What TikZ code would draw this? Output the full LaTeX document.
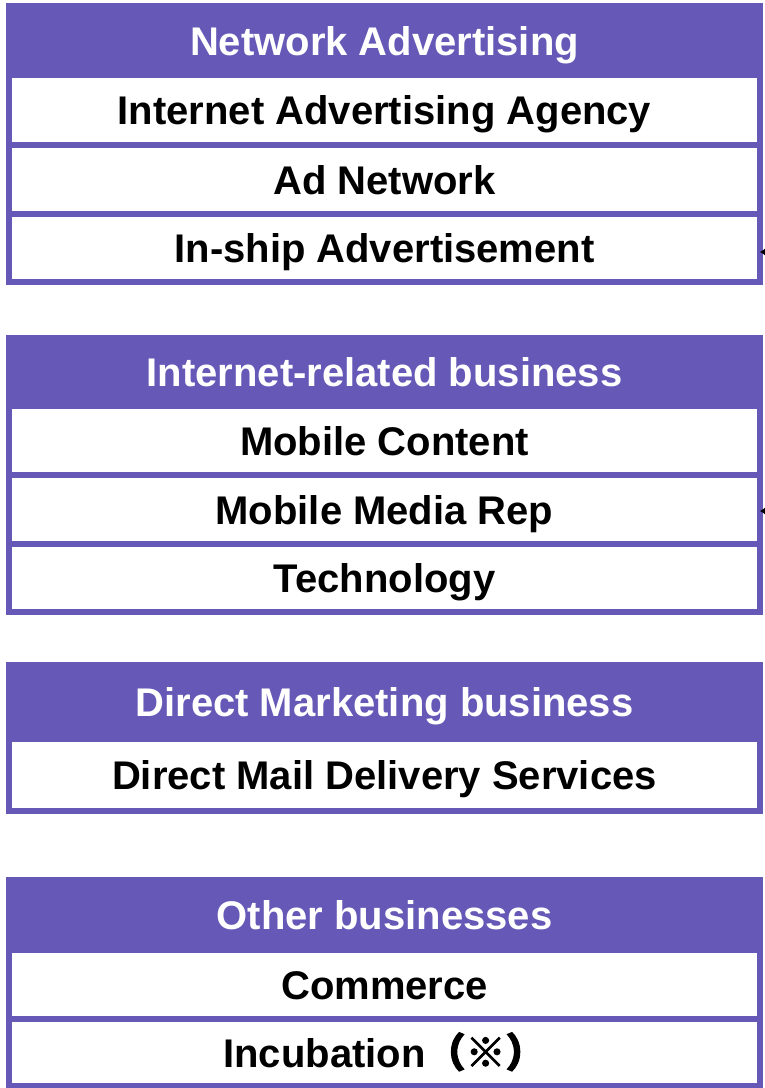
\documentclass[tikz,border=0pt]{standalone}
\usepackage{fontspec}
\setmainfont{Liberation Sans}
\newfontfamily\cjk{Noto Sans CJK JP}[FakeBold=2.5]
\usetikzlibrary{arrows.meta}
\definecolor{band}{RGB}{101,88,183}
\tikzset{
  cell/.style={draw=band, line width=6pt, minimum width=751pt, inner sep=0pt, outer sep=0pt,
    text height=29pt, text depth=0pt, font=\fontsize{40}{48}\selectfont\bfseries},
  headcell/.style={cell, fill=band, text=white},
  itemcell/.style={cell, fill=white, text=black},
  pointer/.style={-{Latex[length=10pt,width=16pt]}, line width=1pt, black}
}
\begin{document}
\begin{tikzpicture}[x=1pt,y=-1pt]
\useasboundingbox (0,0) rectangle (765,1088);
% group 1: network advertising
\node[headcell, minimum height=69pt] (h1) at (384.5,40.5) {Network Advertising};
\node[itemcell, minimum height=70pt] (r11) at (384.5,110) {Internet Advertising Agency};
\node[itemcell, minimum height=69pt] (r12) at (384.5,179.5) {Ad Network};
\node[itemcell, minimum height=68pt] (r13) at (384.5,248) {In-ship Advertisement};
% group 2: internet-related business
\node[headcell, minimum height=68pt] (h2) at (384.5,372) {Internet-related business};
\node[itemcell, minimum height=69pt] (r21) at (384.5,440.5) {Mobile Content};
\node[itemcell, minimum height=69pt] (r22) at (384.5,509.5) {Mobile Media Rep};
\node[itemcell, minimum height=68pt] (r23) at (384.5,578) {Technology};
% group 3: direct marketing business
\node[headcell, minimum height=74pt] (h3) at (384.5,702) {Direct Marketing business};
\node[itemcell, minimum height=72pt] (r31) at (384.5,775) {Direct Mail Delivery Services};
% group 4: other businesses
\node[headcell, minimum height=70pt] (h4) at (384.5,915) {Other businesses};
\node[itemcell, minimum height=69pt] (r41) at (384.5,984.5) {Commerce};
\node[itemcell, minimum height=67pt] (r42) at (384.5,1052.5) {Incubation{\cjk （※）}};
% incoming pointers from the right
\coordinate (p1) at (800,252);
\coordinate (p2) at (800,511);
\draw[pointer] (p1) -- (p1 -| r13.east);
\draw[pointer] (p2) -- (p2 -| r22.east);
\end{tikzpicture}
\end{document}
